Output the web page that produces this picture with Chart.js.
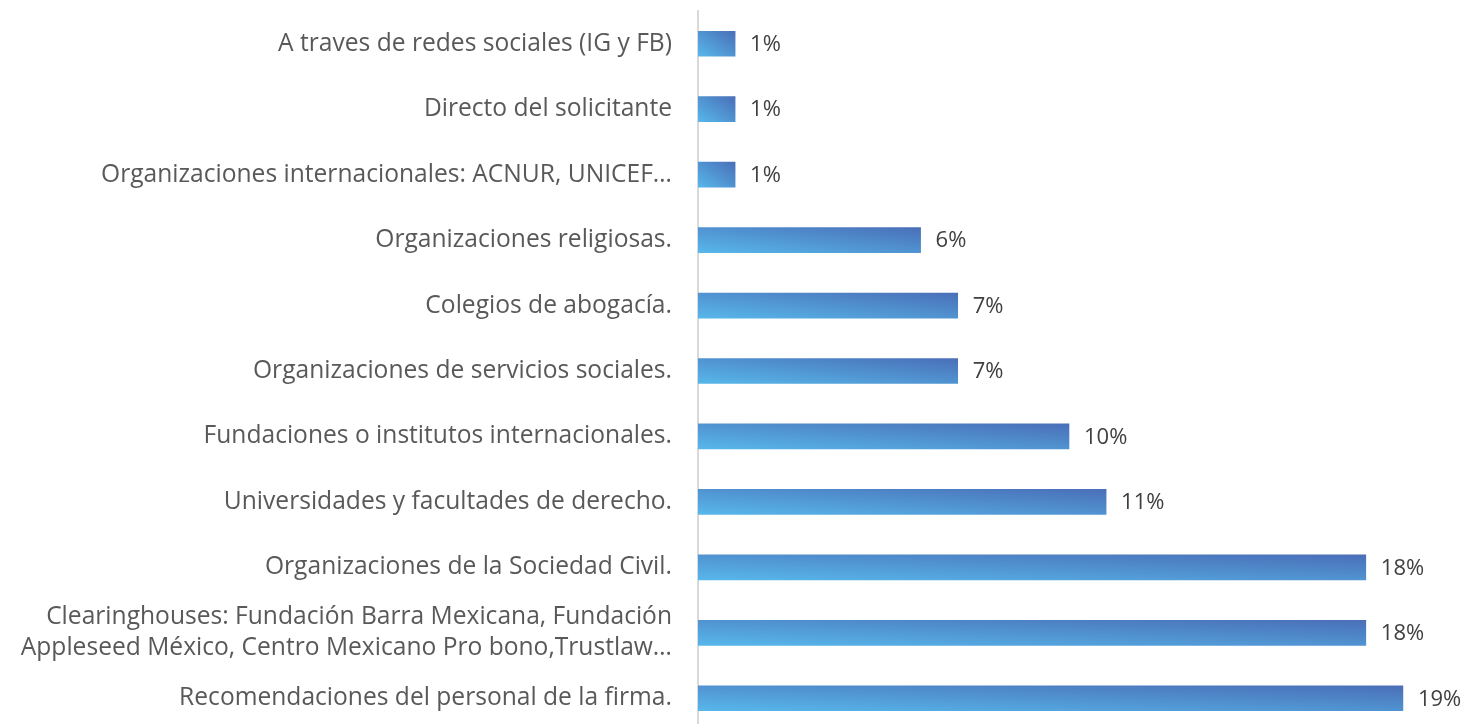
<!DOCTYPE html>
<html>
<head>
<meta charset="utf-8">
<script src="https://cdn.jsdelivr.net/npm/chart.js@4/dist/chart.umd.min.js"></script>
<style>
html,body{margin:0;padding:0;background:#fff;overflow:hidden;}
#wrap{position:relative;width:1466px;height:736px;}
</style>
</head>
<body>
<div id="wrap"><canvas id="c"></canvas></div>
<script>
const categories = [
  "A traves de redes sociales (IG y FB)",
  "Directo del solicitante",
  "Organizaciones internacionales: ACNUR, UNICEF…",
  "Organizaciones religiosas.",
  "Colegios de abogacía.",
  "Organizaciones de servicios sociales.",
  "Fundaciones o institutos internacionales.",
  "Universidades y facultades de derecho.",
  "Organizaciones de la Sociedad Civil.",
  ["Clearinghouses: Fundación Barra Mexicana, Fundación", "Appleseed México, Centro Mexicano Pro bono,Trustlaw…"],
  "Recomendaciones del personal de la firma."
];
const values = [1, 1, 1, 6, 7, 7, 10, 11, 18, 18, 19];
const valueLabels = ["1%", "1%", "1%", "6%", "7%", "7%", "10%", "11%", "18%", "18%", "19%"];

const FONT = "'Open Sans', 'Liberation Sans', sans-serif";
const BAR_H = 25;
const LIGHT = '#57B7EA';
const DARK = '#4A6FB8';

function barGradient(ctx) {
  const chart = ctx.chart;
  if (!chart.chartArea || !chart.scales.x || !chart.scales.y) return DARK;
  const xs = chart.scales.x, ys = chart.scales.y;
  const x0 = xs.getPixelForValue(0);
  const x1 = xs.getPixelForValue(ctx.raw);
  const yc = ys.getPixelForValue(ctx.dataIndex);
  const W = Math.max(1, x1 - x0), H = BAR_H;
  const cx = (x0 + x1) / 2;
  const k = W * H / (W * W + H * H);
  const g = chart.ctx.createLinearGradient(cx - k * H, yc + k * W, cx + k * H, yc - k * W);
  g.addColorStop(0, LIGHT);
  g.addColorStop(1, DARK);
  return g;
}

const valueLabelPlugin = {
  id: 'valueLabels',
  afterDatasetsDraw(chart) {
    const c = chart.ctx;
    const meta = chart.getDatasetMeta(0);
    c.save();
    c.font = "22px " + FONT;
    c.fillStyle = '#404040';
    c.textAlign = 'left';
    c.textBaseline = 'middle';
    meta.data.forEach((bar, i) => {
      c.fillText(valueLabels[i], bar.x + 15, bar.y + 1);
    });
    c.restore();
  }
};

new Chart(document.getElementById('c'), {
  type: 'bar',
  data: {
    labels: categories,
    datasets: [{
      data: values,
      backgroundColor: barGradient,
      borderWidth: 0,
      barThickness: BAR_H
    }]
  },
  options: {
    indexAxis: 'y',
    responsive: true,
    maintainAspectRatio: false,
    animation: false,
    layout: { padding: { top: 11, bottom: 5, right: 26, left: 0 } },
    plugins: { legend: { display: false }, tooltip: { enabled: false } },
    scales: {
      x: { display: false, min: 0, max: 20 },
      y: {
        afterFit(scale) { scale.width = 698; scale.paddingTop = 0; scale.paddingBottom = 0; },
        grid: { display: false, drawTicks: false },
        border: { display: true, color: '#D9D9D9', width: 2 },
        ticks: {
          color: '#595959',
          font: { family: FONT, size: 24.6, lineHeight: 1.26 },
          padding: 26,
          autoSkip: false
        }
      }
    }
  },
  plugins: [valueLabelPlugin]
});
</script>
</body>
</html>
